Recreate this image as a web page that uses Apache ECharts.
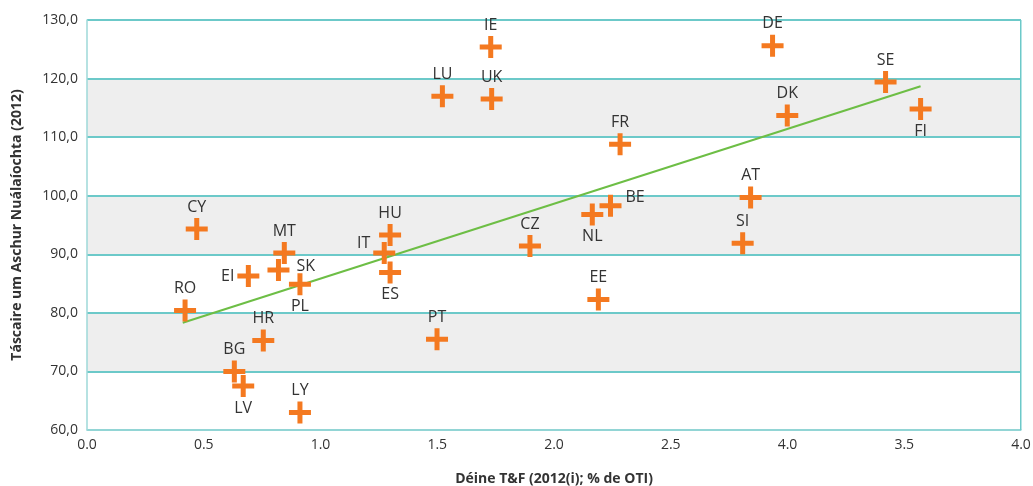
<!DOCTYPE html>
<html><head><meta charset="utf-8">
<script src="https://cdn.jsdelivr.net/npm/echarts@6/dist/echarts.min.js"></script>
<style>html,body{margin:0;padding:0;background:#fff}#c{width:1033px;height:486px}</style>
</head><body><div id="c"></div>
<script>
const codes = ['CY','RO','MT','SK','PL','EI','HU','IT','ES','HR','BG','LV','LY','PT','IE','LU','UK','FR','CZ','NL','BE','EE','AT','SI','DE','DK','SE','FI'];
const xValues = [0.47,0.42,0.845,0.82,0.912,0.691,1.298,1.273,1.298,0.755,0.631,0.669,0.912,1.499,1.729,1.522,1.733,2.283,1.897,2.164,2.242,2.19,2.842,2.808,2.936,2.999,3.42,3.57];
const yValues = [94.3,80.4,90.2,87.3,84.9,86.3,93.3,90.2,86.9,75.3,70.0,67.5,63.0,75.5,125.4,117.0,116.5,108.8,91.4,96.8,98.3,82.3,99.7,91.9,125.6,113.7,119.4,114.8];
const trendX = [0.41, 3.57];
const trendY = [78.3, 118.7];
// x tick texts exactly as printed in the source chart (the 3.0 tick is printed "4.0")
const xTickText = ['0.0','0.5','1.0','1.5','2.0','2.5','4.0','3.5','4.0'];
const xAxisTitle = 'Déine T&F (2012(i); % de OTI)';
const yAxisTitle = 'Táscaire um Aschur Nuálaíochta (2012)';
const r2Value = '0.453';

const labelPos = {
  SK: {position:'right', distance:7, offset:[0,-4]},
  PL: {position:'bottom'},
  EI: {position:'left'},
  IT: {position:'left', offset:[0,-10]},
  ES: {position:'bottom'},
  LV: {position:'bottom'},
  NL: {position:'bottom'},
  BE: {position:'right', distance:4, offset:[0,-8]},
  FI: {position:'bottom'}
};

const FONT = 'Open Sans';
const TXT = '#333333';
const plus = 'path://M8.5,0h5v8.5h8.5v5h-8.5v8.5h-5v-8.5h-8.5v-5h8.5z';

const pts = codes.map((c,i) => {
  const lp = labelPos[c] || {position:'top'};
  return {name:c, value:[xValues[i], yValues[i]], label:Object.assign({show:true, formatter:c, distance:3}, lp)};
});

const chart = echarts.init(document.getElementById('c'));
chart.setOption({
  animation:false,
  grid:{left:87, right:12, top:20, bottom:56, containLabel:false, outerBoundsMode:'none'},
  xAxis:{
    type:'value', min:0, max:4, interval:0.5,
    axisLine:{show:true, lineStyle:{color:'#9ED9D9', width:1.5}},
    axisTick:{show:false},
    splitLine:{show:false},
    axisLabel:{color:TXT, fontFamily:FONT, fontSize:14, margin:8,
      formatter:function(v){ return xTickText[Math.round(Number(v)*2)]; }},
    name:xAxisTitle, nameLocation:'middle', nameGap:42,
    nameTextStyle:{fontFamily:FONT, fontWeight:'bold', fontSize:14, color:TXT}
  },
  yAxis:{
    type:'value', min:60, max:130, interval:10,
    axisLine:{show:true, lineStyle:{color:'#9ED9D9', width:1.5}},
    axisTick:{show:false},
    splitLine:{show:true, lineStyle:{color:'#6CC9C9', width:2}},
    splitArea:{show:true, areaStyle:{color:['#FFFFFF','#EEEEEE']}},
    axisLabel:{color:TXT, fontFamily:FONT, fontSize:14, margin:9,
      formatter:v=>Number(v).toFixed(1).replace('.',',')},
    name:yAxisTitle, nameLocation:'middle', nameGap:63,
    nameTextStyle:{fontFamily:FONT, fontWeight:'bold', fontSize:14, color:TXT}
  },
  series:[
    {type:'line', data:trendX.map((x,i)=>[x,trendY[i]]), symbol:'none',
     lineStyle:{color:'#6DBE45', width:2}, z:3, silent:true},
    {type:'scatter', data:pts, symbol:plus, symbolSize:22,
     itemStyle:{color:'#F47920', opacity:1},
     label:{color:TXT, fontFamily:FONT, fontSize:16},
     z:4}
  ],
  graphic:[
    {type:'rect', shape:{x:1020, y:20, width:1.5, height:410}, style:{fill:'#6CC9C9'}, z:1},
    {type:'text', left:922, top:394, style:{
      text:'{i|R}{s|2}{i| = '+r2Value+'}',
      rich:{i:{fontFamily:FONT, fontStyle:'italic', fontSize:14, fill:'#222'},
            s:{fontFamily:FONT, fontStyle:'italic', fontSize:10, fill:'#222', verticalAlign:'top', padding:[0,0,6,0]}}
    }}
  ]
});
</script></body></html>
